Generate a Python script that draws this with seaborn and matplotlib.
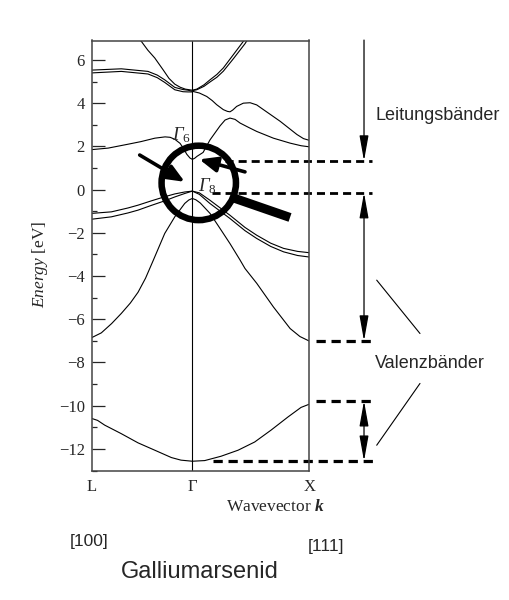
import numpy as np
import pandas as pd
import matplotlib
matplotlib.use("Agg")
import matplotlib.pyplot as plt
import seaborn as sns
from matplotlib.patches import Ellipse

# ---------------- data ----------------
k_ticks = [-0.86, 0.0, 1.0]
k_tick_labels = ["L", "Γ", "X"]

# valence s-band
v1_k = [-0.86, -0.81, -0.749, -0.609, -0.464, -0.321, -0.179, -0.097, 0.0, 0.106, 0.245, 0.391, 0.533, 0.673, 0.818, 0.929, 1.0]
v1_E = [-10.59, -10.68, -10.90, -11.29, -11.72, -12.06, -12.40, -12.52, -12.57, -12.54, -12.34, -12.06, -11.68, -11.13, -10.52, -10.08, -9.93]

# lower valence dome
v2_k = [-0.86, -0.778, -0.69, -0.607, -0.53, -0.464, -0.40, -0.336, -0.236, -0.15, -0.065, -0.03, 0.0, 0.03, 0.068, 0.151, 0.237, 0.322, 0.408, 0.45, 0.551, 0.693, 0.836, 0.92, 1.0]
v2_E = [-6.85, -6.63, -6.20, -5.73, -5.25, -4.75, -4.10, -3.30, -2.03, -1.26, -0.64, -0.48, -0.41, -0.47, -0.62, -1.10, -1.80, -2.50, -3.26, -3.65, -4.34, -5.43, -6.43, -6.80, -7.01]

# upper valence pair
v3_k = [-0.86, -0.692, -0.55, -0.464, -0.35, -0.236, -0.15, -0.065, 0.0, 0.06, 0.15, 0.32, 0.45, 0.55, 0.67, 0.78, 0.9, 1.0]
v3_E = [-1.10, -1.03, -0.85, -0.72, -0.52, -0.33, -0.20, -0.11, -0.07, -0.15, -0.49, -1.18, -1.75, -2.11, -2.48, -2.72, -2.86, -2.92]
v4_k = [-0.86, -0.692, -0.55, -0.464, -0.35, -0.236, -0.15, -0.065, 0.0, 0.06, 0.15, 0.32, 0.45, 0.55, 0.67, 0.78, 0.9, 1.0]
v4_E = [-1.37, -1.26, -1.08, -0.95, -0.73, -0.52, -0.34, -0.18, -0.07, -0.22, -0.64, -1.33, -1.90, -2.26, -2.63, -2.88, -3.05, -3.12]

# lowest conduction band
c1_k = [-0.86, -0.72, -0.55, -0.44, -0.32, -0.233, -0.19, -0.15, -0.105, -0.075, -0.048, -0.02, 0.0, 0.02, 0.04, 0.092, 0.151, 0.237, 0.28, 0.322, 0.365, 0.408, 0.48, 0.551, 0.693, 0.836, 0.93, 1.0]
c1_E = [1.85, 1.92, 2.10, 2.22, 2.38, 2.44, 2.42, 2.33, 2.14, 1.90, 1.64, 1.46, 1.40, 1.45, 1.54, 1.72, 2.30, 2.95, 3.22, 3.31, 3.25, 3.08, 2.88, 2.69, 2.38, 2.15, 2.03, 1.98]

# second conduction band (upper left line + right branch with notch)
c2a_k = [-0.86, -0.607, -0.379, -0.30, -0.236, -0.15, -0.08, -0.037, 0.0, 0.06, 0.123, 0.17, 0.208, 0.265, 0.30, 0.322, 0.345, 0.379, 0.436, 0.494, 0.55, 0.608, 0.751, 0.894, 0.95, 1.0]
c2a_E = [5.53, 5.59, 5.47, 5.30, 5.08, 4.73, 4.63, 4.60, 4.55, 4.47, 4.31, 4.12, 3.93, 3.70, 3.62, 3.60, 3.68, 3.85, 4.00, 4.02, 3.92, 3.70, 3.16, 2.55, 2.36, 2.28]
c2b_k = [-0.86, -0.607, -0.379, -0.30, -0.236, -0.15, -0.08, -0.037, 0.0]
c2b_E = [5.40, 5.47, 5.35, 5.18, 4.96, 4.62, 4.53, 4.52, 4.52]

# upper parabola
c3a_k = [-0.456, -0.436, -0.38, -0.321, -0.248, -0.2, -0.15, -0.105, -0.06, 0.0, 0.038, 0.1, 0.151, 0.21, 0.265, 0.35, 0.436, 0.46]
c3a_E = [6.95, 6.86, 6.45, 6.09, 5.53, 5.15, 4.88, 4.74, 4.65, 4.60, 4.65, 4.85, 5.08, 5.33, 5.63, 6.24, 6.86, 7.05]
c3b_k = [0.0, 0.038, 0.1, 0.151, 0.21, 0.265, 0.35, 0.45, 0.48]
c3b_E = [4.58, 4.62, 4.78, 4.98, 5.20, 5.48, 6.05, 6.75, 7.0]

# energy levels marked on the right
level_cb_min = 1.33
level_vb_top = -0.15
level_vb_bottom = -7.0
level_s_top = -9.78
level_s_bottom = -12.56

# ---------------- style ----------------
sns.set_style("ticks")
plt.rcParams["font.family"] = ["Liberation Serif", "DejaVu Serif"]
plt.rcParams["mathtext.fontset"] = "custom"
plt.rcParams["mathtext.rm"] = "Liberation Serif"
plt.rcParams["mathtext.it"] = "Liberation Serif:italic"
plt.rcParams["mathtext.bf"] = "Liberation Serif:bold:italic"
plt.rcParams["mathtext.sf"] = "Liberation Serif:italic"

fig = plt.figure(figsize=(5.09, 6.0), dpi=100)
ax = fig.add_axes([0.1802, 0.2158, 0.4275, 0.7167])

bands = {
    "v1": (v1_k, v1_E), "v2": (v2_k, v2_E), "v3": (v3_k, v3_E), "v4": (v4_k, v4_E),
    "c1": (c1_k, c1_E), "c2a": (c2a_k, c2a_E), "c2b": (c2b_k, c2b_E),
    "c3a": (c3a_k, c3a_E), "c3b": (c3b_k, c3b_E),
}
rows = []
for name, (ks, es) in bands.items():
    for i, (kk, ee) in enumerate(zip(ks, es)):
        rows.append({"band": name, "k": kk, "E": ee, "i": i})
df = pd.DataFrame(rows)

sns.lineplot(data=df, x="k", y="E", units="band", estimator=None, sort=False,
             color="black", linewidth=0.8, ax=ax, legend=False)
ax.axvline(0.0, color="black", lw=0.8)

ax.set_xlim(-0.86, 1.0)
ax.set_ylim(-13.0, 6.9)
ax.set_xticks(k_ticks)
ax.set_xticklabels(k_tick_labels, fontsize=12)
ax.set_yticks(np.arange(-12, 7, 2))
ax.set_yticks(np.arange(-13, 7, 2), minor=True)
ax.tick_params(axis="y", which="major", direction="in", length=9.5, width=0.9, labelsize=12, pad=5)
ax.tick_params(axis="y", which="minor", direction="in", length=3.5, width=0.9)
ax.tick_params(axis="x", length=0, pad=6)
ax.set_xlabel("")
ax.set_ylabel(r"$\mathit{Energy}$ [eV]", fontsize=12.5)
ax.yaxis.set_label_coords(-0.19, 0.48)
for s in ax.spines.values():
    s.set_color("#444444")
    s.set_linewidth(1.1)

# ---------------- annotations ----------------
# magnifier
circ = Ellipse((0.055, 0.31), width=2 * 37.2 / 117, height=2 * 37.2 / 21.6,
               fill=False, lw=4.7, color="black", clip_on=False, zorder=5)
ax.add_patch(circ)
ax.plot([0.365, 0.835], [-0.41, -1.29], color="black", lw=6.5, solid_capstyle="butt",
        clip_on=False, zorder=5)

thick = dict(arrowstyle="-|>,head_length=0.9,head_width=0.38", mutation_scale=12,
             lw=2.6, color="black", shrinkA=0, shrinkB=0)
ax.annotate("", xy=(-0.065, 0.36), xytext=(-0.45, 1.60), arrowprops=thick, zorder=6)
ax.annotate("", xy=(0.06, 1.40), xytext=(0.45, 0.82), arrowprops=thick, zorder=6)

ax.text(-0.176, 2.29, r"$\mathsf{\Gamma}_{6}$", fontsize=13.5, ha="left", va="baseline")
ax.text(0.051, -0.10, r"$\mathsf{\Gamma}_{8}$", fontsize=13.5, ha="left", va="baseline", zorder=7)

# dashed level lines
dash_kw = dict(color="black", linestyle=(0, (2.9, 1.8)), clip_on=False)
ax.plot([0.168, 1.536], [level_cb_min, level_cb_min], lw=2.0, **dash_kw)
ax.plot([0.168, 1.536], [level_vb_top, level_vb_top], lw=2.0, **dash_kw)
ax.plot([1.057, 1.56], [level_vb_bottom, level_vb_bottom], lw=2.3, **dash_kw)
ax.plot([1.057, 1.56], [level_s_top, level_s_top], lw=2.3, **dash_kw)
ax.plot([0.176, 1.553], [level_s_bottom, level_s_bottom], lw=2.3, **dash_kw)

# vertical arrows
ka = 1.4675
one = dict(arrowstyle="-|>,head_length=1.4,head_width=0.25", mutation_scale=11,
           lw=0.9, color="black", shrinkA=0, shrinkB=0)
two = dict(arrowstyle="<|-|>,head_length=1.4,head_width=0.25", mutation_scale=11,
           lw=0.9, color="black", shrinkA=0, shrinkB=0)
ax.annotate("", xy=(ka, level_cb_min), xytext=(ka, 6.92), arrowprops=one, annotation_clip=False)
ax.annotate("", xy=(ka, level_vb_bottom), xytext=(ka, level_vb_top), arrowprops=two, annotation_clip=False)
ax.annotate("", xy=(ka, level_s_bottom), xytext=(ka, level_s_top), arrowprops=two, annotation_clip=False)

# diagonal pointer lines
ax.plot([1.576, 1.946], [-4.19, -6.66], color="black", lw=0.8, clip_on=False)
ax.plot([1.946, 1.576], [-8.97, -11.83], color="black", lw=0.8, clip_on=False)

sans = ["Liberation Sans", "DejaVu Sans"]
ax.text(1.5615, 3.45, "Leitungsbänder", family=sans, fontsize=13, ha="left", va="center")
ax.text(1.5615, -8.03, "Valenzbänder", family=sans, fontsize=13, ha="left", va="center")

fig.text(0.6385, 0.1555, r"Wavevector $\mathbf{k}$", fontsize=12.5, ha="right", va="center")
fig.text(0.175, 0.097, "[100]", family=sans, fontsize=12.5, ha="center", va="center")
fig.text(0.640, 0.090, "[111]", family=sans, fontsize=12.5, ha="center", va="center")
fig.text(0.393, 0.047, "Galliumarsenid", family=sans, fontsize=17, ha="center", va="center")

fig.savefig("out.png", dpi=100)
